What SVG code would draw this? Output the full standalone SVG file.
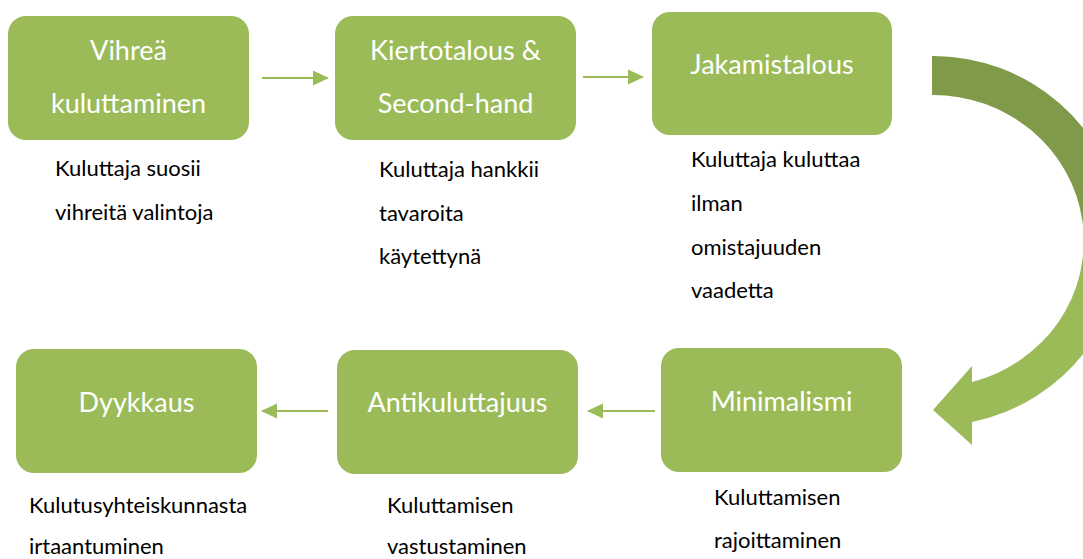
<svg xmlns="http://www.w3.org/2000/svg" width="1083" height="559" viewBox="0 0 1083 559">
<style>
.box{fill:#9BBB59;}
.bt{font-family:Lato,"Liberation Sans",sans-serif;font-size:27px;fill:#FFFFFF;text-anchor:middle;}
.dt{font-family:Lato,"Liberation Sans",sans-serif;font-size:22px;fill:#000000;}
.conn{stroke:#9BBB59;stroke-width:2;fill:none;marker-end:url(#ah);}
</style>
<defs>
<marker id="ah" viewBox="0 0 16 16" refX="15" refY="8" markerWidth="16" markerHeight="16" markerUnits="userSpaceOnUse" orient="auto">
<path d="M0,0.5 L16,8 L0,15.5 Z" fill="#9BBB59"/>
</marker>
<linearGradient id="cg" gradientUnits="userSpaceOnUse" x1="0" y1="56" x2="0" y2="445">
<stop offset="0" stop-color="#7F9A48"/>
<stop offset="0.5" stop-color="#7F9A48"/>
<stop offset="0.57" stop-color="#9BBB59"/>
<stop offset="1" stop-color="#9BBB59"/>
</linearGradient>
</defs>
<g id="connectors">
<line class="conn" x1="262" y1="78" x2="328" y2="78"/>
<line class="conn" x1="583" y1="77" x2="643" y2="77"/>
<line class="conn" x1="655" y1="411" x2="588" y2="411"/>
<line class="conn" x1="328" y1="411" x2="262" y2="411"/>
<path id="curved-arrow" d="M932,56 A190,185 0 0 1 972,422 L972,445 L933,410 L972,366 L972,382 A151,146 0 0 0 932,95 Z" fill="url(#cg)"/>
</g>
<g id="node-vihrea">
<rect class="box" x="8" y="16" width="241" height="124" rx="18"/>
<text class="bt" x="128.5" y="60">Vihreä</text>
<text class="bt" x="128.5" y="113">kuluttaminen</text>
<text class="dt" x="55" y="176">Kuluttaja suosii</text>
<text class="dt" x="55" y="220">vihreitä valintoja</text>
</g>
<g id="node-kiertotalous">
<rect class="box" x="335" y="16" width="241" height="124" rx="18"/>
<text class="bt" x="455.5" y="60">Kiertotalous &amp;</text>
<text class="bt" x="455.5" y="113">Second-hand</text>
<text class="dt" x="379" y="177">Kuluttaja hankkii</text>
<text class="dt" x="379" y="221">tavaroita</text>
<text class="dt" x="379" y="264">käytettynä</text>
</g>
<g id="node-jakamistalous">
<rect class="box" x="652" y="12" width="240" height="123" rx="18"/>
<text class="bt" x="772" y="74">Jakamistalous</text>
<text class="dt" x="691" y="167">Kuluttaja kuluttaa</text>
<text class="dt" x="691" y="211">ilman</text>
<text class="dt" x="691" y="255">omistajuuden</text>
<text class="dt" x="691" y="298">vaadetta</text>
</g>
<g id="node-minimalismi">
<rect class="box" x="661" y="348" width="241" height="124" rx="18"/>
<text class="bt" x="781.5" y="411">Minimalismi</text>
<text class="dt" x="714" y="505">Kuluttamisen</text>
<text class="dt" x="714" y="548">rajoittaminen</text>
</g>
<g id="node-antikuluttajuus">
<rect class="box" x="337" y="350" width="241" height="124" rx="18"/>
<text class="bt" x="457.5" y="412">Antikuluttajuus</text>
<text class="dt" x="387" y="513">Kuluttamisen</text>
<text class="dt" x="387" y="554">vastustaminen</text>
</g>
<g id="node-dyykkaus">
<rect class="box" x="16" y="349" width="241" height="124" rx="18"/>
<text class="bt" x="136.5" y="412">Dyykkaus</text>
<text class="dt" x="29" y="513">Kulutusyhteiskunnasta</text>
<text class="dt" x="29" y="554">irtaantuminen</text>
</g>
</svg>
